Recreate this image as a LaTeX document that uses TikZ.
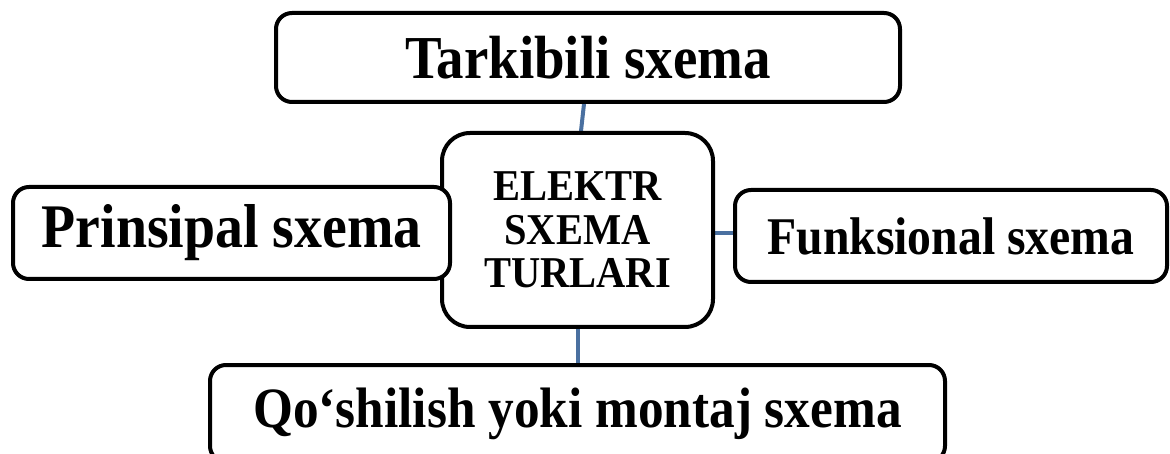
\documentclass[tikz,border=0pt]{standalone}
\usepackage{fontspec}
\setmainfont{Liberation Serif}
\usetikzlibrary{backgrounds}
\definecolor{linkblue}{RGB}{74,112,160}
\tikzset{
  box/.style={draw=black, line width=4pt, rounded corners=16pt, fill=white, inner sep=0pt},
  hub/.style={box, rounded corners=28pt},
  link/.style={draw=linkblue, line width=4pt},
}
% bold, slightly condensed label text
\newcommand{\cond}[1]{\scalebox{0.9}[1]{#1}}
\newcommand{\lbl}[2]{\fontsize{#1}{#1}\selectfont\bfseries\cond{#2}}

\begin{document}
\begin{tikzpicture}[x=1pt,y=-1pt]
\useasboundingbox (0,0) rectangle (1170,454);

\node[box, minimum width=624pt, minimum height=89pt] (top) at (588,57.5) {\lbl{61}{Tarkibili sxema}};
\node[hub, minimum width=271pt, minimum height=194pt, align=center,
      font={\fontsize{44}{43.5}\selectfont\bfseries}] (ctr) at (577.5,230)
      {\scalebox{0.92}[1]{ELEKTR}\\\scalebox{0.92}[1]{SXEMA}\\\scalebox{0.92}[1]{TURLARI}};
\node[box, minimum width=437pt, minimum height=92pt] (left) at (231.5,233) {\lbl{62}{Prinsipal sxema}};
\node[box, minimum width=432pt, minimum height=92pt] (right) at (951,236) {\lbl{53}{Funksional sxema}};
\node[box, minimum width=735pt, minimum height=97pt] (bot) at (577.5,413.5) {\lbl{57}{Qo‘shilish yoki montaj sxema}};

\begin{pgfonlayer}{background}
  \draw[link] ([xshift=-4pt]top.south) -- ([xshift=3.5pt]ctr.north);
  \draw[link] ([yshift=-3pt]ctr.east) -- ([yshift=3pt]right.west);
  \draw[link] (ctr.south) -- (bot.north);
\end{pgfonlayer}
\end{tikzpicture}
\end{document}
